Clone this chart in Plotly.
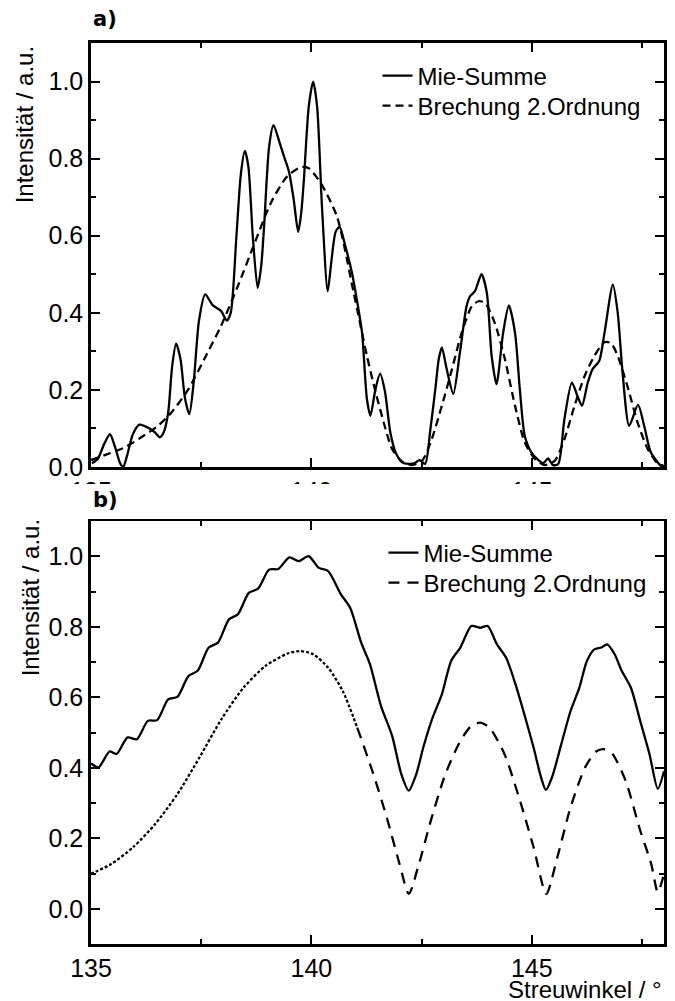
import plotly.graph_objects as go

# ---------------- data ----------------
# Panel a) Mie-Summe
a_mie_x = [135.02, 135.15, 135.3, 135.43, 135.55, 135.66, 135.73, 135.82, 135.95, 136.1, 136.33, 136.45,
           136.56, 136.65, 136.75, 136.84, 136.93, 137.03, 137.13, 137.23, 137.33, 137.45, 137.59, 137.76,
           137.95, 138.08, 138.17, 138.3, 138.4, 138.49, 138.57, 138.67, 138.78, 138.86, 138.93, 139.04,
           139.14, 139.27, 139.38, 139.49, 139.6, 139.7, 139.77, 139.83, 139.94, 140.04, 140.13, 140.24,
           140.37, 140.45, 140.55, 140.64, 140.77, 140.92, 141.03, 141.15, 141.26, 141.34, 141.45, 141.56,
           141.67, 141.79, 141.91, 142.06, 142.21, 142.35, 142.45, 142.58, 142.7, 142.81, 142.89, 142.96,
           143.07, 143.22, 143.37, 143.52, 143.6, 143.71, 143.86, 143.98, 144.09, 144.2, 144.35, 144.48,
           144.62, 144.73, 144.84, 144.99, 145.14, 145.26, 145.37, 145.48, 145.6, 145.74, 145.91, 146.05,
           146.14, 146.27, 146.38, 146.53, 146.65, 146.84, 146.95, 147.06, 147.21, 147.41, 147.55, 147.7,
           147.93, 148.0]
a_mie_y = [0.01, 0.02, 0.06, 0.085, 0.05, 0.01, 0.0, 0.03, 0.085, 0.11, 0.10, 0.09,
           0.077, 0.09, 0.14, 0.26, 0.32, 0.28, 0.18, 0.137, 0.22, 0.38, 0.448, 0.42,
           0.405, 0.38, 0.40, 0.60, 0.76, 0.82, 0.78, 0.60, 0.465, 0.52, 0.63, 0.83,
           0.887, 0.845, 0.805, 0.767, 0.693, 0.61, 0.66, 0.745, 0.935, 1.0, 0.935, 0.676,
           0.456, 0.53, 0.61, 0.623, 0.573, 0.504, 0.435, 0.348, 0.176, 0.133, 0.20, 0.242,
           0.195, 0.09, 0.038, 0.012, 0.008, 0.01, 0.018, 0.008, 0.098, 0.2, 0.28, 0.31,
           0.254, 0.19, 0.297, 0.417, 0.443, 0.456, 0.5, 0.452, 0.288, 0.215, 0.348, 0.419,
           0.348, 0.2, 0.081, 0.038, 0.019, 0.01, 0.022, 0.005, 0.008, 0.124, 0.219, 0.18,
           0.159, 0.219, 0.254, 0.275, 0.348, 0.473, 0.4, 0.245, 0.107, 0.161, 0.107, 0.038,
           0.003, 0.0]

# Panel a) Brechung 2.Ordnung
a_br_x = [135.0, 135.39, 135.77, 136.14, 136.52, 136.82, 137.2, 137.57, 137.95, 138.33, 138.7, 139.08,
          139.45, 139.76, 139.94, 140.21, 140.58, 140.96, 141.26, 141.46, 141.64, 141.83, 142.06, 142.28,
          142.51, 142.73, 142.96, 143.19, 143.41, 143.64, 143.79, 143.94, 144.16, 144.39, 144.62, 144.84,
          145.07, 145.29, 145.52, 145.74, 145.97, 146.2, 146.42, 146.65, 146.8, 146.95, 147.17, 147.4,
          147.63, 147.85, 148.0]
a_br_y = [0.018, 0.034, 0.051, 0.077, 0.107, 0.141, 0.2, 0.28, 0.366, 0.469, 0.577, 0.685,
          0.754, 0.778, 0.775, 0.737, 0.65, 0.452, 0.288, 0.193, 0.116, 0.047, 0.014, 0.005,
          0.016, 0.072, 0.159, 0.254, 0.348, 0.417, 0.43, 0.426, 0.374, 0.28, 0.159, 0.064,
          0.021, 0.005, 0.016, 0.072, 0.159, 0.236, 0.288, 0.324, 0.321, 0.288, 0.21, 0.116,
          0.047, 0.01, 0.003]

# Panel b) Mie-Summe
b_mie_x = [135.0, 135.17, 135.42, 135.58, 135.83, 136.04, 136.29, 136.5, 136.75, 136.96, 137.21, 137.42,
           137.67, 137.88, 138.13, 138.33, 138.58, 138.79, 139.04, 139.25, 139.5, 139.71, 139.94, 140.17,
           140.38, 140.67, 140.88, 141.13, 141.33, 141.58, 141.83, 142.04, 142.21, 142.38, 142.54, 142.75,
           142.96, 143.17, 143.38, 143.63, 143.83, 144.0, 144.21, 144.42, 144.63, 144.83, 145.04, 145.21,
           145.32, 145.46, 145.67, 145.88, 146.08, 146.25, 146.42, 146.58, 146.71, 146.88, 147.04, 147.25,
           147.46, 147.67, 147.86, 148.0]
b_mie_y = [0.412, 0.401, 0.446, 0.439, 0.486, 0.481, 0.533, 0.535, 0.594, 0.601, 0.66, 0.675,
           0.741, 0.755, 0.821, 0.835, 0.896, 0.908, 0.962, 0.964, 0.997, 0.986, 1.0, 0.967,
           0.958, 0.892, 0.854, 0.755, 0.693, 0.575, 0.491, 0.382, 0.335, 0.382, 0.458, 0.542,
           0.608, 0.703, 0.741, 0.802, 0.797, 0.802, 0.75, 0.712, 0.637, 0.552, 0.458, 0.373,
           0.337, 0.373, 0.467, 0.561, 0.627, 0.703, 0.736, 0.741, 0.75, 0.722, 0.675, 0.627,
           0.533, 0.439, 0.34, 0.39]

# Panel b) Brechung 2.Ordnung
b_br_x = [135.0, 135.46, 135.96, 136.46, 136.96, 137.46, 137.96, 138.46, 138.96, 139.46, 139.75, 140.04,
          140.38, 140.71, 141.04, 141.38, 141.71, 142.0, 142.21, 142.42, 142.71, 143.04, 143.38, 143.63,
          143.83, 144.04, 144.38, 144.71, 145.04, 145.33, 145.58, 145.88, 146.21, 146.46, 146.63, 146.83,
          147.13, 147.46, 147.71, 147.86, 148.0]
b_br_y = [0.099, 0.127, 0.175, 0.241, 0.325, 0.429, 0.538, 0.627, 0.689, 0.724, 0.731, 0.722,
          0.684, 0.618, 0.514, 0.392, 0.259, 0.127, 0.042, 0.118, 0.25, 0.382, 0.476, 0.519,
          0.528, 0.514, 0.439, 0.316, 0.175, 0.042, 0.146, 0.288, 0.401, 0.446, 0.453, 0.439,
          0.363, 0.222, 0.127, 0.047, 0.099]

series_names = ["Mie-Summe", "Brechung 2.Ordnung"]
x_tickvals = [135, 140, 145]
y_tickvals = [0.0, 0.2, 0.4, 0.6, 0.8, 1.0]
x_title = "Streuwinkel / °"
y_title = "Intensität / a.u."
panel_labels = ["a)", "b)"]

# ---------------- figure ----------------
FONT = "Liberation Sans, Arial, sans-serif"
W, H = 675, 1001
ML, MR, MT, MB = 91, 8, 43, 57
PW, PH = W - ML - MR, H - MT - MB


def py(px):  # pixel y (from top) -> paper y
    return (H - MB - px) / PH


def pxx(px):  # pixel x -> paper x
    return (px - ML) / PW


fig = go.Figure()
line_w = 2.3

fig.add_trace(go.Scatter(x=a_mie_x, y=a_mie_y, mode="lines", name=series_names[0],
                         line=dict(color="black", width=line_w, shape="spline", smoothing=0.7),
                         xaxis="x", yaxis="y", legend="legend"))
fig.add_trace(go.Scatter(x=a_br_x, y=a_br_y, mode="lines", name=series_names[1],
                         line=dict(color="black", width=line_w, dash="8px,5px", shape="spline", smoothing=0.7),
                         xaxis="x", yaxis="y", legend="legend2"))

split = 14  # index where the dotted look changes to long dashes in panel b
fig.add_trace(go.Scatter(x=b_mie_x, y=b_mie_y, mode="lines", name=series_names[0],
                         line=dict(color="black", width=line_w, shape="spline", smoothing=0.7),
                         xaxis="x2", yaxis="y2", legend="legend3"))
fig.add_trace(go.Scatter(x=b_br_x[split:], y=b_br_y[split:], mode="lines", name=series_names[1],
                         line=dict(color="black", width=line_w, dash="11px,8px", shape="spline", smoothing=0.7),
                         xaxis="x2", yaxis="y2", legend="legend4"))
fig.add_trace(go.Scatter(x=b_br_x[:split + 1], y=b_br_y[:split + 1], mode="lines", name=series_names[1],
                         line=dict(color="black", width=line_w, dash="3px,2px", shape="spline", smoothing=0.7),
                         xaxis="x2", yaxis="y2", showlegend=False))

axis_common = dict(showline=True, linecolor="black", linewidth=2.5, mirror="allticks",
                   ticks="inside", ticklen=9, tickwidth=2, tickcolor="black",
                   showgrid=False, zeroline=False,
                   tickfont=dict(family=FONT, size=25, color="black"))

xcommon = dict(axis_common, range=[135, 148], tickvals=x_tickvals,
               minor=dict(dtick=2.5, tick0=135, ticks="inside", ticklen=5, tickwidth=2, tickcolor="black"))
ycommon = dict(axis_common, tickvals=y_tickvals, tickformat=".1f",
               minor=dict(dtick=0.1, tick0=0, ticks="inside", ticklen=5, tickwidth=2, tickcolor="black"))


def one_legend(x_px, y_center_px):
    return dict(x=pxx(x_px), y=py(y_center_px), xanchor="left", yanchor="middle",
                bgcolor="rgba(0,0,0,0)", borderwidth=0,
                font=dict(family=FONT, size=24, color="black"))


fig.update_layout(
    width=W, height=H,
    margin=dict(l=ML, r=MR, t=MT, b=MB),
    paper_bgcolor="white", plot_bgcolor="white",
    font=dict(family=FONT, size=24, color="black"),
    xaxis=dict(xcommon, domain=[0, 1], anchor="y"),
    yaxis=dict(ycommon, domain=[py(467), 1], range=[0, 1.1], anchor="x"),
    xaxis2=dict(xcommon, domain=[0, 1], anchor="y2"),
    yaxis2=dict(ycommon, domain=[0, py(521)], range=[-0.1, 1.1], anchor="x2"),
    legend=one_legend(379, 76),
    legend2=one_legend(379, 106),
    legend3=one_legend(385, 553),
    legend4=one_legend(385, 583),
    shapes=[
        # panel b overlaps the tick labels of panel a (only their tops peek out)
        dict(type="rect", xref="paper", yref="paper", x0=-0.2, x1=1.02,
             y0=py(519), y1=py(484), fillcolor="white", line=dict(width=0), layer="above"),
    ],
    annotations=[
        dict(text=panel_labels[0], xref="paper", yref="paper", x=pxx(91), y=py(19),
             xanchor="left", yanchor="middle", showarrow=False,
             font=dict(family="DejaVu Sans", size=21, color="black", weight="bold")),
        dict(text=panel_labels[1], xref="paper", yref="paper", x=pxx(91), y=py(500),
             xanchor="left", yanchor="middle", showarrow=False,
             font=dict(family="DejaVu Sans", size=21, color="black", weight="bold")),
        dict(text=y_title, xref="paper", yref="paper", x=pxx(24), y=py(125), textangle=-90,
             xanchor="center", yanchor="middle", showarrow=False,
             font=dict(family=FONT, size=24, color="black")),
        dict(text=y_title, xref="paper", yref="paper", x=pxx(30), y=py(598), textangle=-90,
             xanchor="center", yanchor="middle", showarrow=False,
             font=dict(family=FONT, size=24, color="black")),
        dict(text=x_title, xref="paper", yref="paper", x=pxx(667), y=py(990),
             xanchor="right", yanchor="middle", showarrow=False,
             font=dict(family=FONT, size=24, color="black")),
    ],
)

fig.write_html("out.html")
